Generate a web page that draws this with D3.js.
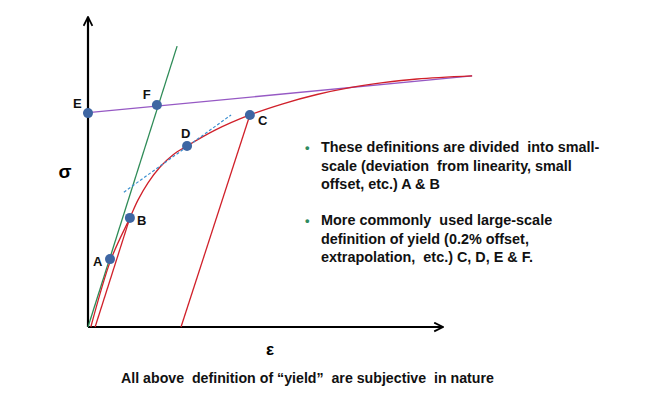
<!DOCTYPE html>
<html>
<head>
<meta charset="utf-8">
<script src="https://cdn.jsdelivr.net/npm/d3@7"></script>
<style>
  body { margin: 0; background: #fff; }
  svg { display: block; }
  text { font-family: Arial, "Liberation Sans", sans-serif; }
</style>
</head>
<body>
<script>
// Schematic stress-strain curve with the different yield definitions

const W = 660, H = 397;

// strain (arbitrary units) / stress (arbitrary units)
const curveStrain = [0.08, 0.65, 1.18, 1.41, 1.69, 2.03, 2.39, 2.79, 3.58, 4.56, 5.49, 6.45, 7.38, 8.31, 9.27, 10.82];
const curveStress = [0, 21.9, 35.2, 41.0, 46.5, 51.6, 55.5, 58.4, 63.5, 68.4, 72.0, 75.0, 77.2, 78.8, 80.0, 81.0];

// second (small offset) red line into B
const smallOffsetStrain = [0.2, 1.18], smallOffsetStress = [0, 35.2];

// elastic line (green), 0.2% offset unloading line, extrapolation line, tangent at D
const elasticStrain = [0, 2.51], elasticStress = [0, 90.6];
const offsetStrain = [4.56, 2.62], offsetStress = [68.4, 0];
const extrapStrain = [-0.14, 10.82], extrapStress = [69.0, 81.0];
const tangentStrain = [1.01, 4.03], tangentStress = [43.5, 68.4];

// yield points
const pointNames = ["A", "B", "D", "C", "E", "F"];
const pointStrain = [0.62, 1.18, 2.79, 4.56, 0, 1.94];
const pointStress = [21.9, 35.2, 58.4, 68.4, 69.0, 71.6];

const bullets = [
  ["These definitions are divided  into small-", "scale (deviation  from linearity, small", "offset, etc.) A & B"],
  ["More commonly  used large-scale", "definition of yield (0.2% offset,", "extrapolation,  etc.) C, D, E & F."]
];
const caption = "All above  definition of \u201Cyield\u201D  are subjective  in nature";

// label offsets relative to the dots
const labelOffset = {A: [-17, 7], B: [7, 7], D: [-6, -8], C: [8, 10], E: [-15, -5], F: [-14, -6]};

const svg = d3.select("body").append("svg")
  .attr("width", W)
  .attr("height", H);

const x = d3.scaleLinear().domain([0, 10]).range([88, 443]);
const y = d3.scaleLinear().domain([0, 100]).range([327, 17]);

// arrow heads
const defs = svg.append("defs");
defs.append("marker")
  .attr("id", "arrow")
  .attr("viewBox", "0 0 10 10")
  .attr("refX", 9).attr("refY", 5)
  .attr("markerWidth", 5).attr("markerHeight", 5)
  .attr("orient", "auto-start-reverse")
  .append("path")
  .attr("d", "M1,1 L9,5 L1,9")
  .attr("fill", "none")
  .attr("stroke", "#000")
  .attr("stroke-width", 1.6);

// axes, no ticks
const xAxis = svg.append("g")
  .attr("transform", `translate(0,${y(0)})`)
  .call(d3.axisBottom(x).ticks(0).tickSizeOuter(0));
const yAxis = svg.append("g")
  .attr("transform", `translate(${x(0)},0)`)
  .call(d3.axisLeft(y).ticks(0).tickSizeOuter(0));
[xAxis, yAxis].forEach(a => {
  a.select(".domain")
    .attr("stroke", "#000")
    .attr("stroke-width", 2.2)
    .attr("marker-end", "url(#arrow)");
});
// point the arrows outward (up and right)
yAxis.select(".domain").attr("d", `M0,${y(0)}V${y(100)}`);
xAxis.select(".domain").attr("d", `M${x(0)},0H${x(10)}`);

const line = d3.line().x(d => x(d[0])).y(d => y(d[1]));
const curveLine = d3.line().x(d => x(d[0])).y(d => y(d[1])).curve(d3.curveCatmullRom.alpha(0.5));

function drawLine(xs, ys, color, gen) {
  return svg.append("path")
    .datum(d3.zip(xs, ys))
    .attr("d", gen || line)
    .attr("fill", "none")
    .attr("stroke", color)
    .attr("stroke-width", 1.3);
}

drawLine(elasticStrain, elasticStress, "#2e8b57");
drawLine(extrapStrain, extrapStress, "#9659c4");
drawLine(curveStrain, curveStress, "#d0202a", curveLine);
drawLine(smallOffsetStrain, smallOffsetStress, "#d0202a");
drawLine(offsetStrain, offsetStress, "#d0202a");
drawLine(tangentStrain, tangentStress, "#3b8fd0")
  .attr("stroke-width", 1.2)
  .attr("stroke-dasharray", "3,2");

const pts = pointNames.map((n, i) => ({name: n, e: pointStrain[i], s: pointStress[i]}));

svg.selectAll(".pt")
  .data(pts)
  .join("circle")
  .attr("class", "pt")
  .attr("cx", d => x(d.e))
  .attr("cy", d => y(d.s))
  .attr("r", 5)
  .attr("fill", "#3e66a3");

svg.selectAll(".ptlabel")
  .data(pts)
  .join("text")
  .attr("class", "ptlabel")
  .attr("x", d => x(d.e) + labelOffset[d.name][0])
  .attr("y", d => y(d.s) + labelOffset[d.name][1])
  .attr("font-size", 13)
  .attr("font-weight", "bold")
  .attr("fill", "#111")
  .text(d => d.name);

// axis symbols
svg.append("text")
  .attr("x", 65).attr("y", 178)
  .attr("text-anchor", "middle")
  .attr("font-family", "'DejaVu Serif', serif")
  .attr("font-size", 19)
  .attr("font-weight", "bold")
  .text("\u03C3");
svg.append("text")
  .attr("x", 270).attr("y", 355)
  .attr("text-anchor", "middle")
  .attr("font-family", "'DejaVu Serif', serif")
  .attr("font-size", 17)
  .attr("font-weight", "bold")
  .text("\u03B5");

// bullet notes
const notes = svg.append("g");
bullets.forEach((lines, bi) => {
  const y0 = 152 + bi * 73;
  notes.append("text")
    .attr("x", 305).attr("y", y0)
    .attr("font-size", 13)
    .attr("font-weight", "bold")
    .attr("fill", "#2e8b60")
    .text("\u2022");
  lines.forEach((t, li) => {
    notes.append("text")
      .attr("x", 321).attr("y", y0 + li * 18.5)
      .attr("font-size", 14.4)
      .attr("font-weight", "bold")
      .attr("fill", "#111")
      .style("white-space", "pre")
      .text(t);
  });
});

svg.append("text")
  .attr("x", 121).attr("y", 383)
  .attr("font-size", 14.2)
  .attr("font-weight", "bold")
  .attr("fill", "#111")
  .style("white-space", "pre")
  .text(caption);
</script>
</body>
</html>
